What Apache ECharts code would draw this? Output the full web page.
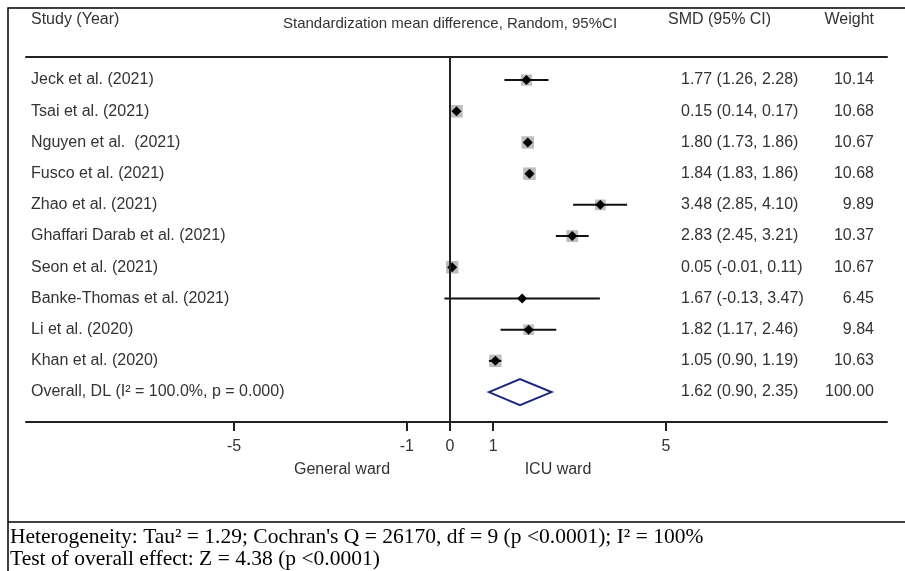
<!DOCTYPE html>
<html>
<head>
<meta charset="utf-8">
<script src="https://cdn.jsdelivr.net/npm/echarts@6/dist/echarts.min.js"></script>
<style>
html,body{margin:0;padding:0;background:#fff;}
#chart{width:905px;height:571px;}
</style>
</head>
<body>
<div id="chart"></div>
<script>
// ---- data ----
const studies = ['Jeck et al. (2021)', 'Tsai et al. (2021)', 'Nguyen et al.  (2021)', 'Fusco et al. (2021)',
  'Zhao et al. (2021)', 'Ghaffari Darab et al. (2021)', 'Seon et al. (2021)', 'Banke-Thomas et al. (2021)',
  'Li et al. (2020)', 'Khan et al. (2020)'];
const smd = [1.77, 0.15, 1.80, 1.84, 3.48, 2.83, 0.05, 1.67, 1.82, 1.05];
const lower = [1.26, 0.14, 1.73, 1.83, 2.85, 2.45, -0.01, -0.13, 1.17, 0.90];
const upper = [2.28, 0.17, 1.86, 1.86, 4.10, 3.21, 0.11, 3.47, 2.46, 1.19];
const weights = [10.14, 10.68, 10.67, 10.68, 9.89, 10.37, 10.67, 6.45, 9.84, 10.63];
const overallLabel = 'Overall, DL (I\u00B2 = 100.0%, p = 0.000)';
const overallSmd = 1.62;
const overallLower = 0.90;
const overallUpper = 2.35;
const overallWeight = 100.00;
const xTickValues = [-5, -1, 0, 1, 5];
const sideLabels = ['General ward', 'ICU ward'];
const sideValues = [-2.5, 2.5];
const headerStudy = 'Study (Year)';
const headerMethod = 'Standardization mean difference, Random, 95%CI';
const headerSmd = 'SMD (95% CI)';
const headerWeight = 'Weight';
const footer1 = "Heterogeneity: Tau\u00B2 = 1.29; Cochran's Q = 26170, df = 9 (p <0.0001); I\u00B2 = 100%";
const footer2 = 'Test of overall effect: Z = 4.38 (p <0.0001)';

// ---- build ----
const allLabels = studies.concat([overallLabel]);
const allSmd = smd.concat([overallSmd]);
const allLower = lower.concat([overallLower]);
const allUpper = upper.concat([overallUpper]);
const allWeights = weights.concat([overallWeight]);
const rowIdx = allLabels.map((_, i) => i);
const maxW = Math.max.apply(null, weights);

const studyData = studies.map((s, i) => [smd[i], i, lower[i], upper[i], weights[i]]);
const overallData = [[overallSmd, studies.length, overallLower, overallUpper, overallWeight]];

const SANS = 'Liberation Sans, Arial, sans-serif';
const SERIF = 'Liberation Serif, Times New Roman, serif';
const TXT = '#333';

const chart = echarts.init(document.getElementById('chart'), null, {renderer: 'canvas'});
const xMin = -9.815, xMax = 10.116;

const option = {
  animation: false,
  backgroundColor: '#fff',
  grid: {left: 26, right: 18, top: 57, bottom: 149, containLabel: false},
  xAxis: [
    {
      type: 'value', position: 'bottom', min: xMin, max: xMax,
      splitLine: {show: false},
      axisLine: {show: true, onZero: false, lineStyle: {color: '#222', width: 2}},
      axisTick: {show: true, customValues: xTickValues, length: 9, lineStyle: {color: '#222', width: 2}},
      axisLabel: {show: true, customValues: xTickValues, margin: 17, color: TXT, fontSize: 16, fontFamily: SANS,
        formatter: v => String(v)}
    },
    {
      type: 'value', position: 'bottom', min: xMin, max: xMax,
      splitLine: {show: false}, axisLine: {show: false, onZero: false}, axisTick: {show: false},
      axisLabel: {show: true, customValues: sideValues, margin: 40, color: TXT, fontSize: 16, fontFamily: SANS,
        formatter: v => sideLabels[sideValues.indexOf(v)] || ''}
    },
    {
      type: 'value', position: 'top', min: xMin, max: xMax,
      splitLine: {show: false},
      axisLine: {show: true, onZero: false, lineStyle: {color: '#222', width: 2}},
      axisTick: {show: false}, axisLabel: {show: false}
    }
  ],
  yAxis: {
    type: 'value', inverse: true, min: -0.74, max: 10.96,
    splitLine: {show: false}, axisLine: {show: false, onZero: false}, axisTick: {show: false},
    axisLabel: {
      show: true, inside: true, margin: 5, customValues: rowIdx,
      formatter: v => {
        const i = Math.round(v);
        if (i < 0 || i >= allLabels.length) return '';
        const ci = allSmd[i].toFixed(2) + ' (' + allLower[i].toFixed(2) + ', ' + allUpper[i].toFixed(2) + ')';
        return '{a|' + allLabels[i] + '}{b|' + ci + '}{c|' + allWeights[i].toFixed(2) + '}';
      },
      rich: {
        a: {width: 650, align: 'left', fontSize: 16, fontFamily: SANS, color: TXT},
        b: {width: 133, align: 'left', fontSize: 16, fontFamily: SANS, color: TXT},
        c: {width: 60, align: 'right', fontSize: 16, fontFamily: SANS, color: TXT}
      }
    }
  },
  series: [
    {
      type: 'custom', name: 'studies', xAxisIndex: 0, yAxisIndex: 0,
      data: studyData,
      renderItem: (params, api) => {
        const c = api.coord([api.value(0), api.value(1)]);
        const l = api.coord([api.value(2), api.value(1)]);
        const u = api.coord([api.value(3), api.value(1)]);
        const side = 12.5 * Math.pow(api.value(4) / maxW, 2);
        const d = 5;
        return {
          type: 'group',
          children: [
            {type: 'rect', shape: {x: c[0] - side / 2, y: c[1] - side / 2, width: side, height: side},
              style: {fill: '#bdbdbd'}},
            {type: 'line', shape: {x1: l[0], y1: l[1], x2: u[0], y2: u[1]},
              style: {stroke: '#111', lineWidth: 2}},
            {type: 'polygon', shape: {points: [[c[0] - d, c[1]], [c[0], c[1] - d], [c[0] + d, c[1]], [c[0], c[1] + d]]},
              style: {fill: '#000'}}
          ]
        };
      },
      markLine: {
        silent: true, symbol: 'none', label: {show: false},
        lineStyle: {color: '#222', width: 2, type: 'solid'},
        data: [{xAxis: 0}]
      },
      z: 3
    },
    {
      type: 'custom', name: 'overall', xAxisIndex: 0, yAxisIndex: 0,
      data: overallData,
      renderItem: (params, api) => {
        const c = api.coord([api.value(0), api.value(1)]);
        const l = api.coord([api.value(2), api.value(1)]);
        const u = api.coord([api.value(3), api.value(1)]);
        const h = 13;
        return {
          type: 'polygon',
          shape: {points: [[l[0], l[1]], [c[0], c[1] - h], [u[0], u[1]], [c[0], c[1] + h]]},
          style: {fill: 'none', stroke: '#1c2580', lineWidth: 2}
        };
      },
      z: 3
    }
  ],
  graphic: [
    {type: 'polyline', silent: true, shape: {points: [[8, 571], [8, 8], [905, 8]]},
      style: {stroke: '#000', lineWidth: 1.5, fill: null}},
    {type: 'line', silent: true, shape: {x1: 8, y1: 522, x2: 905, y2: 522},
      style: {stroke: '#000', lineWidth: 1.5}},
    {type: 'text', x: 31, y: 20, style: {text: headerStudy, font: '16px ' + SANS, fill: TXT, align: 'left', verticalAlign: 'middle'}},
    {type: 'text', x: 450, y: 24, style: {text: headerMethod, font: '15px ' + SANS, fill: TXT, align: 'center', verticalAlign: 'middle'}},
    {type: 'text', x: 668, y: 20, style: {text: headerSmd, font: '16px ' + SANS, fill: TXT, align: 'left', verticalAlign: 'middle'}},
    {type: 'text', x: 874, y: 20, style: {text: headerWeight, font: '16px ' + SANS, fill: TXT, align: 'right', verticalAlign: 'middle'}},
    {type: 'text', x: 10, y: 537, style: {text: footer1, font: '21.5px ' + SERIF, fill: '#000', align: 'left', verticalAlign: 'middle'}},
    {type: 'text', x: 10, y: 559, style: {text: footer2, font: '21.5px ' + SERIF, fill: '#000', align: 'left', verticalAlign: 'middle'}}
  ]
};
chart.setOption(option);
</script>
</body>
</html>
